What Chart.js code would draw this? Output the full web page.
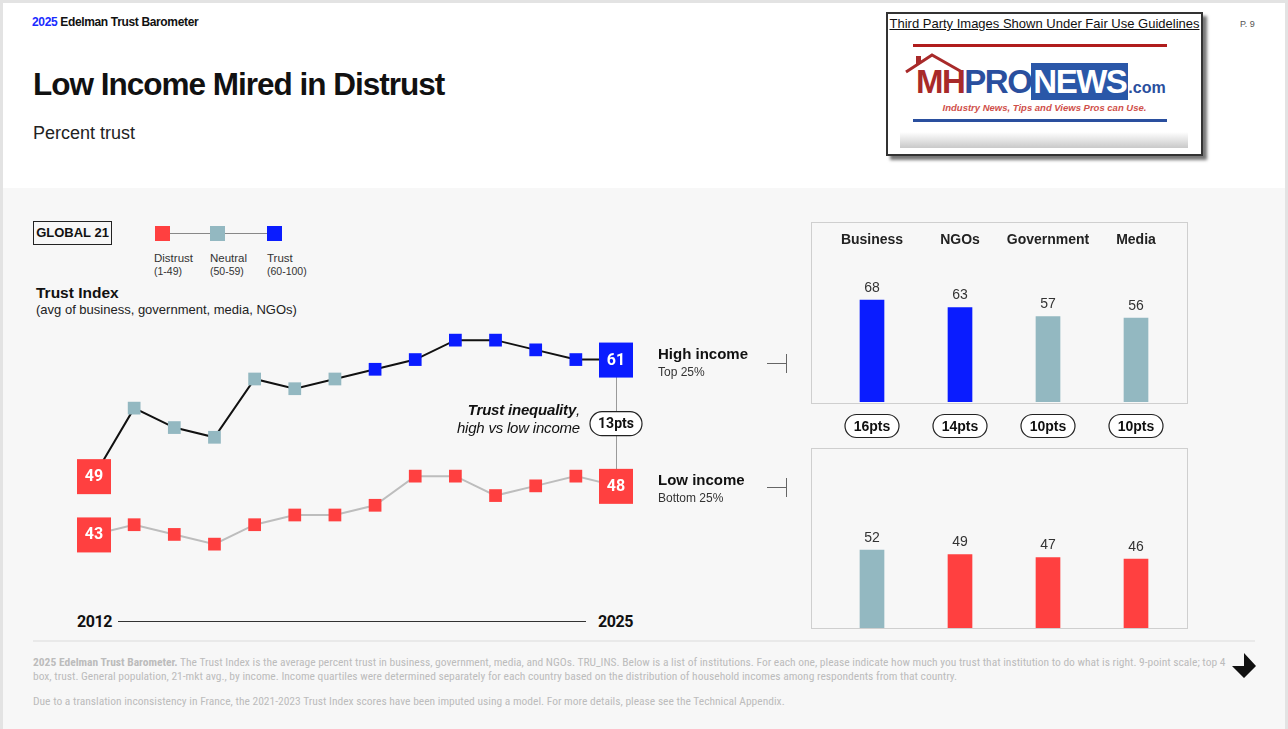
<!DOCTYPE html>
<html>
<head>
<meta charset="utf-8">
<script src="https://cdn.jsdelivr.net/npm/chart.js@4.4.1/dist/chart.umd.min.js"></script>
<style>
  body { margin: 0; width: 1288px; height: 729px; background: #e3e3e3; overflow: hidden; font-family: "Liberation Sans", Arial, sans-serif; color: #111; }
  .abs { position: absolute; }
  #slide { left: 3px; top: 3px; width: 1282px; height: 726px; background: #fff; }
  #panel { left: 3px; top: 188px; width: 1282px; height: 541px; background: #f7f7f7; }
  .brand { left: 32px; top: 15px; font-weight: bold; font-size: 12px; letter-spacing: -0.35px; }
  .brand span { color: #1a2cff; }
  .title { left: 33px; top: 66px; font-weight: bold; font-size: 31.5px; letter-spacing: -1px; }
  .subtitle { left: 33px; top: 123px; font-size: 18px; color: #222; }
  .page { left: 1240px; top: 19px; font-size: 9px; color: #555; }
  .global { left: 33px; top: 221px; width: 77px; height: 22px; border: 1.5px solid #222; font-weight: bold; font-size: 13px; line-height: 22px; text-align: center; }
  .sq { width: 15px; height: 15px; top: 226px; }
  .leg { top: 252px; font-size: 11.5px; color: #333; line-height: 13px; }
  .leg small { font-size: 10.5px; }
  .ti { left: 36px; top: 284px; font-weight: bold; font-size: 15.5px; }
  .tisub { left: 36px; top: 302px; font-size: 13px; color: #222; }
  .year { top: 612px; font-family: Roboto, sans-serif; font-weight: bold; font-size: 16px; letter-spacing: -0.4px; }
  .ineq { left: 400px; top: 401px; width: 180px; text-align: right; font-style: italic; font-size: 15px; line-height: 18px; letter-spacing: -0.2px; }
  .grp { left: 658px; }
  .grp b { font-size: 15px; display: block; line-height: 17px; }
  .grp span { font-size: 12px; color: #333; }
  .tick-h { width: 19px; height: 1px; background: #666; left: 767px; }
  .tick-v { width: 1px; height: 19px; background: #666; left: 786px; }
  .box { border: 1px solid #cfcfcf; pointer-events: none; }
  .foot-line { left: 33px; top: 640px; width: 1222px; height: 2px; background: #e9e9e9; }
  .foot { left: 33px; font-family: "Liberation Sans Narrow", "Roboto Condensed", "Liberation Sans", sans-serif; font-size: 11.5px; color: #bcbcbc; line-height: 14px; white-space: nowrap; }
  #logo { left: 886px; top: 12px; width: 313px; height: 140px; border: 2px solid #333; background: #fff; box-shadow: 4px 4px 3px #777; }
</style>
</head>
<body>
<div id="slide" class="abs"></div>
<div id="panel" class="abs"></div>

<div class="abs brand"><span>2025</span> Edelman Trust Barometer</div>
<div class="abs title">Low Income Mired in Distrust</div>
<div class="abs subtitle">Percent trust</div>
<div class="abs page">P. 9</div>

<div id="logo" class="abs">
  <div style="text-align:center;font-size:13px;text-decoration:underline;margin-top:2px;">Third Party Images Shown Under Fair Use Guidelines</div>
  <div class="abs" style="left:25px;top:30px;width:254px;height:3px;background:#b01c1c;"></div>
  <svg class="abs" style="left:14px;top:38px" width="80" height="30"><polyline points="4,20 30,3 60,20" fill="none" stroke="#a82a2a" stroke-width="3"/><rect x="14" y="4" width="5" height="8" fill="#a82a2a"/></svg>
  <div class="abs" style="left:28px;top:49px;font-weight:bold;font-size:33px;letter-spacing:-1.5px;white-space:nowrap;">
    <span style="color:#a82a2a">MH</span><span style="color:#2a4f9e">PRO</span><span style="background:#2a57a8;color:#fff;padding:0 2px;">NEWS</span><span style="color:#2a4f9e;font-size:16px;letter-spacing:0">.com</span>
  </div>
  <div class="abs" style="left:0;top:88px;width:313px;text-align:center;font-style:italic;font-weight:bold;font-size:9.5px;color:#d0504a;">Industry News, Tips and Views Pros can Use.</div>
  <div class="abs" style="left:25px;top:105px;width:254px;height:3px;background:#2a4f9e;"></div>
  <div class="abs" style="left:12px;top:118px;width:288px;height:16px;background:linear-gradient(#fff,#c9c9c9);"></div>
</div>

<div class="abs global">GLOBAL 21</div>
<div class="abs" style="left:162px;top:233px;width:112px;height:1px;background:#888;"></div>
<div class="abs sq" id="sqRed" style="left:155px;"></div>
<div class="abs sq" id="sqNeu" style="left:210px;"></div>
<div class="abs sq" id="sqBlue" style="left:267px;"></div>
<div class="abs leg" style="left:154px;">Distrust<br><small>(1-49)</small></div>
<div class="abs leg" style="left:210px;">Neutral<br><small>(50-59)</small></div>
<div class="abs leg" style="left:267px;">Trust<br><small>(60-100)</small></div>

<div class="abs ti">Trust Index</div>
<div class="abs tisub">(avg of business, government, media, NGOs)</div>

<canvas id="lineChart" class="abs" style="left:60px;top:300px;" width="600" height="300"></canvas>

<div class="abs year" id="yFirst" style="left:77px;"></div>
<div class="abs year" id="yLast" style="left:598px;"></div>
<div class="abs" style="left:118px;top:621px;width:468px;height:1px;background:#333;"></div>

<div class="abs ineq"><b>Trust inequality</b>,<br>high vs low income</div>

<div class="abs grp" style="top:345px;"><b>High income</b><span>Top 25%</span></div>
<div class="abs tick-h" style="top:363px;"></div>
<div class="abs tick-v" style="top:354px;"></div>
<div class="abs grp" style="top:471px;"><b>Low income</b><span>Bottom 25%</span></div>
<div class="abs tick-h" style="top:487px;"></div>
<div class="abs tick-v" style="top:478px;"></div>

<canvas id="highBars" class="abs" style="left:811px;top:222px;" width="377" height="182"></canvas>
<canvas id="lowBars" class="abs" style="left:811px;top:405px;" width="377" height="224"></canvas>
<div class="abs box" style="left:811px;top:222px;width:375px;height:180px;"></div>
<div class="abs box" style="left:811px;top:448px;width:375px;height:179px;"></div>

<div class="abs foot-line"></div>
<div class="abs foot" style="top:655px;"><b>2025 Edelman Trust Barometer.</b> The Trust Index is the average percent trust in business, government, media, and NGOs. TRU_INS. Below is a list of institutions. For each one, please indicate how much you trust that institution to do what is right. 9-point scale; top 4<br>box, trust. General population, 21-mkt avg., by income. Income quartiles were determined separately for each country based on the distribution of household incomes among respondents from that country.</div>
<div class="abs foot" style="top:694px;">Due to a translation inconsistency in France, the 2021-2023 Trust Index scores have been imputed using a model. For more details, please see the Technical Appendix.</div>
<svg class="abs" style="left:1231px;top:653px" width="28" height="28"><polygon points="1,13 13,13 13,0 25,13 13,25" fill="#111"/></svg>

<script>
// ── Data ──
const years = ['2012', '2013', '2014', '2015', '2016', '2017', '2018', '2019', '2020', '2021', '2022', '2023', '2024', '2025'];
const highIncome = [49, 56, 54, 53, 59, 58, 59, 60, 61, 63, 63, 62, 61, 61];
const lowIncome = [43, 44, 43, 42, 44, 45, 45, 46, 49, 49, 47, 48, 49, 48];

const institutions = ['Business', 'NGOs', 'Government', 'Media'];
const highInst = [68, 63, 57, 56];
const lowInst = [52, 49, 47, 46];

const RED = '#ff4040';
const NEUTRAL = '#93b8c1';
const BLUE = '#0a1cff';

function trustColor(v) {
  return v >= 60 ? BLUE : v >= 50 ? NEUTRAL : RED;
}

document.getElementById('sqRed').style.background = RED;
document.getElementById('sqNeu').style.background = NEUTRAL;
document.getElementById('sqBlue').style.background = BLUE;
document.getElementById('yFirst').textContent = years[0];
document.getElementById('yLast').textContent = years[years.length - 1];

Chart.defaults.font.family = "'Liberation Sans', Arial, sans-serif";
Chart.defaults.animation = false;

function pill(ctx, cx, cy, w, h, text, font) {
  ctx.beginPath();
  ctx.roundRect(cx - w / 2, cy - h / 2, w, h, h / 2);
  ctx.fillStyle = '#fff';
  ctx.fill();
  ctx.lineWidth = 1.2;
  ctx.strokeStyle = '#222';
  ctx.stroke();
  ctx.fillStyle = '#111';
  ctx.font = font;
  ctx.textAlign = 'center';
  ctx.textBaseline = 'middle';
  ctx.fillText(text, cx, cy + 1);
}

// ── Trust Index line chart ──
const last = years.length - 1;
const endBoxes = {
  id: 'endBoxes',
  afterDatasetsDraw(chart) {
    const { ctx, scales: { x, y } } = chart;
    const xl = x.getPixelForValue(last);
    const yHigh = y.getPixelForValue(highIncome[last]);
    const yLow = y.getPixelForValue(lowIncome[last]);
    ctx.save();
    ctx.strokeStyle = '#9a9a9a';
    ctx.lineWidth = 1;
    ctx.beginPath();
    ctx.moveTo(xl + 0.5, yHigh);
    ctx.lineTo(xl + 0.5, yLow);
    ctx.stroke();

    [highIncome, lowIncome].forEach(series => {
      [0, last].forEach(i => {
        const px = x.getPixelForValue(i);
        const py = y.getPixelForValue(series[i]);
        ctx.fillStyle = trustColor(series[i]);
        ctx.fillRect(px - 17, py - 17, 34, 35);
        ctx.fillStyle = '#fff';
        ctx.font = "bold 16px Roboto, sans-serif";
        ctx.textAlign = 'center';
        ctx.textBaseline = 'middle';
        ctx.fillText(series[i], px, py + 1);
      });
    });

    pill(ctx, xl, (yHigh + yLow) / 2 + 1, 52, 24, (highIncome[last] - lowIncome[last]) + 'pts', "bold 14px Roboto, sans-serif");
    ctx.restore();
  }
};

const pointRadius = c => (c.dataIndex === 0 || c.dataIndex === last) ? 0 : 9;

new Chart(document.getElementById('lineChart'), {
  type: 'line',
  data: {
    labels: years,
    datasets: [
      {
        label: 'Low income',
        data: lowIncome,
        borderColor: '#bdbdbd',
        borderWidth: 2,
        tension: 0,
        pointStyle: 'rect',
        pointRadius: pointRadius,
        pointBorderWidth: 0,
        pointBackgroundColor: c => trustColor(c.raw),
      },
      {
        label: 'High income',
        data: highIncome,
        borderColor: '#111',
        borderWidth: 2,
        tension: 0,
        pointStyle: 'rect',
        pointRadius: pointRadius,
        pointBorderWidth: 0,
        pointBackgroundColor: c => trustColor(c.raw),
      }
    ]
  },
  options: {
    responsive: false,
    layout: { padding: { left: 34, right: 44, top: 11, bottom: 17 } },
    plugins: { legend: { display: false }, tooltip: { enabled: false } },
    scales: {
      x: { display: false, offset: false },
      y: { display: false, min: 38, max: 66 }
    }
  },
  plugins: [endBoxes]
});

// ── Institution bar charts ──
function barLabels(showHeaders, showGaps) {
  return {
    id: 'barLabels',
    afterDatasetsDraw(chart) {
      const { ctx, scales: { x, y } } = chart;
      const data = chart.data.datasets[0].data;
      ctx.save();
      ctx.textAlign = 'center';
      data.forEach((v, i) => {
        const px = x.getPixelForValue(i);
        ctx.fillStyle = '#333';
        ctx.font = "14px 'Liberation Sans', Arial, sans-serif";
        ctx.textBaseline = 'bottom';
        ctx.fillText(v, px, y.getPixelForValue(v) - 5);
        if (showHeaders) {
          ctx.fillStyle = '#222';
          ctx.font = "bold 14px 'Liberation Sans', Arial, sans-serif";
          ctx.textBaseline = 'middle';
          ctx.fillText(institutions[i], px, chart.chartArea.top - 12);
        }
        if (showGaps) {
          pill(ctx, px, 21, 54, 23, (highInst[i] - lowInst[i]) + 'pts', "bold 14px 'Liberation Sans', Arial, sans-serif");
        }
      });
      ctx.restore();
    }
  };
}

function barChart(id, values, padding, showHeaders, showGaps) {
  new Chart(document.getElementById(id), {
    type: 'bar',
    data: {
      labels: institutions,
      datasets: [{
        data: values,
        backgroundColor: values.map(trustColor),
        barThickness: 24,
        borderWidth: 0,
      }]
    },
    options: {
      responsive: false,
      layout: { padding: padding },
      plugins: { legend: { display: false }, tooltip: { enabled: false } },
      scales: {
        x: { display: false },
        y: { display: false, min: 0, max: 100 }
      }
    },
    plugins: [barLabels(showHeaders, showGaps)]
  });
}

barChart('highBars', highInst, { left: 17, right: 8, top: 30, bottom: 2 }, true, false);
barChart('lowBars', lowInst, { left: 17, right: 8, top: 73, bottom: 1 }, false, true);
</script>
</body>
</html>
